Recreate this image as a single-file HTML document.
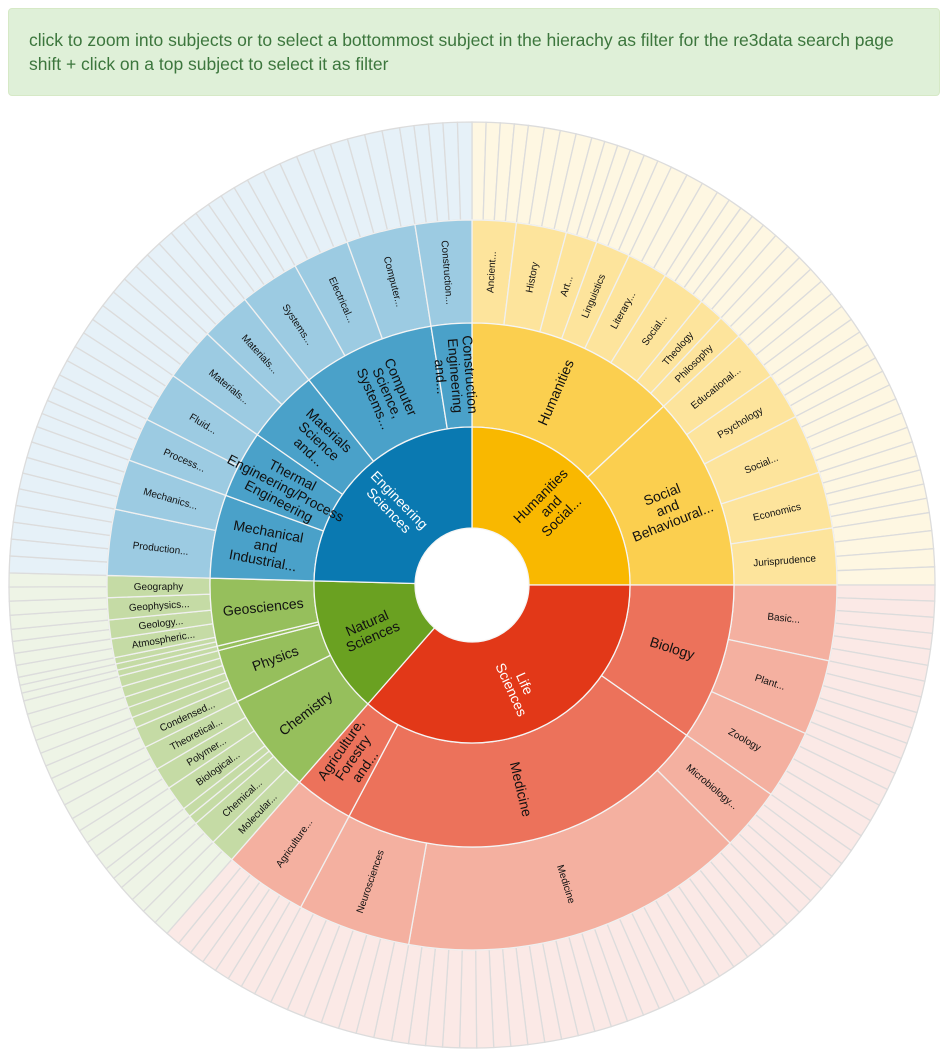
<!DOCTYPE html>
<html><head><meta charset="utf-8"><style>
body{margin:0;background:#fff;width:950px;height:1063px;overflow:hidden;font-family:"Liberation Sans",sans-serif}
#info{position:absolute;left:8px;top:8px;width:890px;height:50px;padding:19px 20px 17px 20px;background:#dff0d8;border:1px solid #d6e9c6;border-radius:4px;color:#3c763d;font-size:17.5px;line-height:24px;white-space:nowrap}
svg{position:absolute;left:0;top:0}
</style></head><body>
<div id="info">click to zoom into subjects or to select a bottommost subject in the hierachy as filter for the re3data search page<br>shift + click on a top subject to select it as filter</div>
<svg id="chart" width="950" height="1063"></svg>
<script>
const topNames=["Humanities and Social Sciences","Life Sciences","Natural Sciences","Engineering Sciences"];
const topLabels=[["Humanities","and","Social..."],["Life","Sciences"],["Natural","Sciences"],["Engineering","Sciences"]];
const midNames=["Humanities","Social and Behavioural Sciences","Biology","Medicine","Agriculture, Forestry and Veterinary Medicine","Chemistry","Physics","Mathematics","Geosciences","Mechanical and Industrial Engineering","Thermal Engineering/Process Engineering","Materials Science and Engineering","Computer Science, Systems Engineering","Construction Engineering and Architecture"];
const midParent=[0,0,1,1,1,2,2,2,2,3,3,3,3,3];
const midLabels=[["Humanities"],["Social","and","Behavioural..."],["Biology"],["Medicine"],["Agriculture,","Forestry","and..."],["Chemistry"],["Physics"],[""],["Geosciences"],["Mechanical","and","Industrial..."],["Thermal","Engineering/Process","Engineering"],["Materials","Science","and..."],["Computer","Science,","Systems..."],["Construction","Engineering","and..."]];
const leafNames=["Ancient...","History","Art...","Linguistics","Literary...","Social...","Theology","Philosophy",
"Educational...","Psychology","Social...","Economics","Jurisprudence",
"Basic...","Plant...","Zoology","Microbiology...","Medicine","Neurosciences","Agriculture...",
"Molecular...","Chemical...","","","Biological...","Polymer...","Theoretical...",
"Condensed...","","","","","",
"",
"","","Atmospheric...","Geology...","Geophysics...","Geography",
"Production...","Mechanics...","Process...","Fluid...","Materials...","Materials...","Systems...","Electrical...","Computer...","Construction..."];
const leafParent=[0,0,0,0,0,0,0,0, 1,1,1,1,1, 2,2,2,3,3,3,4, 5,5,5,5,5,5,5, 6,6,6,6,6,6, 7, 8,8,8,8,8,8, 9,9,10,10,11,11,12,12,12,13];
const leafValues=[7,8,5,5.5,6.5,7,4,4, 8,7.5,9.5,9,9, 12,12,11,10,55,18,13.2, 4,4,1.5,1.5,4,3.5,3.9, 3.4,1.7,1.7,1.7,1.7,1.7, 1, 1,1,3,3,3.5,3.5, 10.5,8,7,8,8.5,8,9.5,9,11,9];
const leafCounts=[4,4,3,3,3,4,2,2, 4,4,5,5,4, 6,6,5,5,26,8,7, 2,2,1,1,2,2,2, 2,1,1,1,1,1, 1, 1,1,2,2,2,2, 5,4,4,4,4,4,5,4,5,5];

const palette=[["#f9b800","#fbcf4f","#fde49c","#fef7e2"],["#e23818","#ec725b","#f4b0a0","#fbe9e6"],["#6aa121","#96bf5c","#c5dba5","#eef4e6"],["#0a79b1","#4aa1c9","#9ccbe2","#e6f1f8"]];
const cx=472,cy=585,R=[57,158,262,365,463];
const svg=document.getElementById('chart');
const NS="http://www.w3.org/2000/svg";
function pt(r,a){const t=a*Math.PI/180;return [cx+r*Math.sin(t),cy-r*Math.cos(t)];}
function arc(r0,r1,a0,a1){const l=(a1-a0)>180?1:0;const p0=pt(r1,a0),p1=pt(r1,a1),p2=pt(r0,a1),p3=pt(r0,a0);
return `M${p0[0]},${p0[1]}A${r1},${r1} 0 ${l} 1 ${p1[0]},${p1[1]}L${p2[0]},${p2[1]}A${r0},${r0} 0 ${l} 0 ${p3[0]},${p3[1]}Z`;}
const total=leafValues.reduce((s,v)=>s+v,0);
const scale=360/total;
const leafA=[];let acc=0;
leafValues.forEach(v=>{leafA.push([acc,acc+v*scale]);acc+=v*scale;});
const midA=midNames.map((n,i)=>{let a0=1e9,a1=-1e9;leafParent.forEach((p,j)=>{if(p===i){a0=Math.min(a0,leafA[j][0]);a1=Math.max(a1,leafA[j][1]);}});return [a0,a1];});
const topA=topNames.map((n,i)=>{let a0=1e9,a1=-1e9;midParent.forEach((p,j)=>{if(p===i){a0=Math.min(a0,midA[j][0]);a1=Math.max(a1,midA[j][1]);}});return [a0,a1];});
function seg(name,d,fill,stroke){const p=document.createElementNS(NS,'path');p.setAttribute('d',d);p.setAttribute('fill',fill);p.setAttribute('stroke',stroke);p.setAttribute('stroke-width','1.3');


p.style.cursor='pointer';svg.appendChild(p);}
function label(name,lines,r,a,size,color){if(!lines.join(''))return;let rot=a<180?a-90:a+90;const p=pt(r,a);
const t=document.createElementNS(NS,'text');t.setAttribute('transform',`translate(${p[0]},${p[1]}) rotate(${rot})`);t.setAttribute('text-anchor','middle');t.setAttribute('font-size',size);t.setAttribute('fill',color);t.setAttribute('font-family','Liberation Sans, sans-serif');


const lh=size*1.05,n=lines.length;lines.forEach((s,k)=>{const ts=document.createElementNS(NS,'tspan');ts.setAttribute('x',0);ts.setAttribute('y',(k-(n-1)/2)*lh+size*0.35);ts.textContent=s;t.appendChild(ts);});svg.appendChild(t);}
leafNames.forEach((n,j)=>{const top=midParent[leafParent[j]];const [a0,a1]=leafA[j];const c=leafCounts[j];for(let k=0;k<c;k++){seg('outer-cell',arc(R[3],R[4],a0+(a1-a0)*k/c,a0+(a1-a0)*(k+1)/c),palette[top][3],'#dcdcdc');}});
leafNames.forEach((n,j)=>{const top=midParent[leafParent[j]];const [a0,a1]=leafA[j];seg('leaf-'+(n||'subject').replace(/\W+/g,'-').toLowerCase(),arc(R[2],R[3],a0,a1),palette[top][2],'#f0f0f0');});
midNames.forEach((n,i)=>{const [a0,a1]=midA[i];seg('mid-'+n.split(/\W+/)[0].toLowerCase(),arc(R[1],R[2],a0,a1),palette[midParent[i]][1],'#f5f5f5');});
topNames.forEach((n,i)=>{const [a0,a1]=topA[i];seg('top-'+n.split(' ')[0].toLowerCase(),arc(R[0],R[1],a0,a1),palette[i][0],'#f5f5f5');});
leafNames.forEach((n,j)=>{const [a0,a1]=leafA[j];label('leaf-label',[n],(R[2]+R[3])/2,(a0+a1)/2,10,'#111');});
midNames.forEach((n,i)=>{const [a0,a1]=midA[i];label('mid-label',midLabels[i],(R[1]+R[2])/2,(a0+a1)/2,14,'#111');});
topNames.forEach((n,i)=>{const [a0,a1]=topA[i];label('top-label',topLabels[i],(R[0]+R[1])/2+4,(a0+a1)/2,14,(i===1||i===3)?'#fff':'#111');});
</script>
</body></html>
